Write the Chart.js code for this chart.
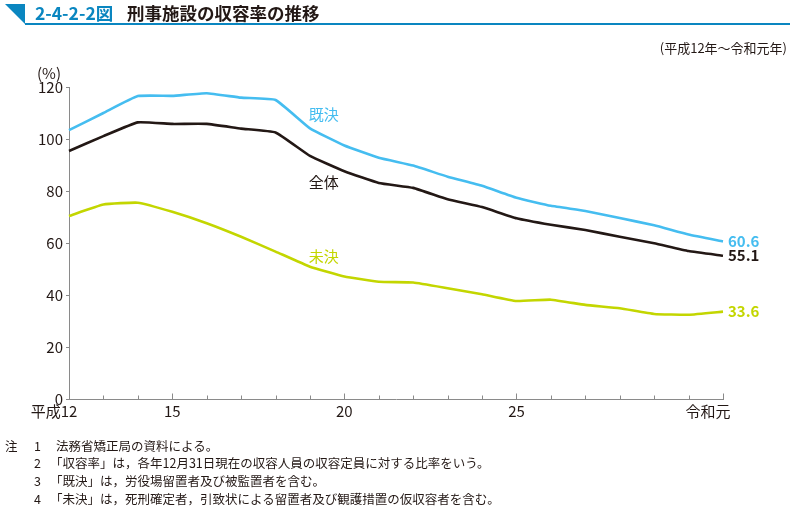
<!DOCTYPE html>
<html><head><meta charset="utf-8">
<script src="https://cdn.jsdelivr.net/npm/chart.js@4.4.1/dist/chart.umd.min.js"></script>
<style>
html,body{margin:0;padding:0;background:#fff;}
body{width:790px;height:506px;position:relative;overflow:hidden;font-family:"Noto Sans CJK JP","Noto Sans",sans-serif;color:#231815;}
#wrap{position:absolute;left:0;top:0;width:790px;height:506px;}
.abs{position:absolute;white-space:nowrap;}
#tri{position:absolute;left:5px;top:4px;width:0;height:0;border-top:20px solid #0a86c0;border-left:20px solid transparent;}
#uline{position:absolute;left:25px;top:23px;width:765px;height:2px;background:#0a86c0;}
#fig{left:35px;top:0px;font-size:17.5px;font-weight:bold;color:#0a86c0;}
#ttl{left:127px;top:0px;font-size:17.5px;font-weight:bold;color:#231815;}
#sub{right:3px;top:38px;font-size:13px;}
#unit{left:37px;top:62px;font-size:15px;}
.note{font-size:12.5px;color:#231815;}
</style></head><body>
<div id="wrap"><canvas id="c" width="790" height="506"></canvas></div>
<div id="tri"></div><div id="uline"></div>
<div class="abs" id="fig">2-4-2-2図</div>
<div class="abs" id="ttl">刑事施設の収容率の推移</div>
<div class="abs" id="sub">(平成12年～令和元年)</div>
<div class="abs" id="unit">(%)</div>
<div class="abs note" style="left:5px;top:436px;">注</div>
<div class="abs note" style="left:34px;top:436px;">1</div>
<div class="abs note" style="left:56px;top:436px;">法務省矯正局の資料による。</div>
<div class="abs note" style="left:34px;top:453px;">2</div>
<div class="abs note" style="left:50px;top:453px;">「収容率」は，各年12月31日現在の収容人員の収容定員に対する比率をいう。</div>
<div class="abs note" style="left:34px;top:471px;">3</div>
<div class="abs note" style="left:50px;top:471px;">「既決」は，労役場留置者及び被監置者を含む。</div>
<div class="abs note" style="left:34px;top:489px;">4</div>
<div class="abs note" style="left:50px;top:489px;">「未決」は，死刑確定者，引致状による留置者及び観護措置の仮収容者を含む。</div>
<script>
const years = ["平成12","13","14","15","16","17","18","19","20","21","22","23","24","25","26","27","28","29","30","令和元"];
const shownTicks = ["平成12","15","20","25","令和元"];
const seriesNames = ["既決","全体","未決"];
const kiketsu = [103.4,110.0,116.5,116.6,117.6,115.9,115.0,104.1,97.5,92.8,89.8,85.5,82.0,77.4,74.3,72.3,69.6,66.8,63.3,60.6];
const zentai  = [95.4,101.1,106.4,105.8,105.8,104.0,102.5,93.5,87.6,83.1,81.2,76.8,73.8,69.5,67.0,65.0,62.4,59.9,56.9,55.1];
const miketsu = [70.4,74.8,75.5,72.0,67.6,62.4,56.7,50.9,47.1,45.1,44.8,42.6,40.3,37.7,38.2,36.2,34.9,32.7,32.4,33.6];
const yTicks = [0,20,40,60,80,100,120];
const colors = ["#45bdf0","#231815","#c3d600"];
const nameLabelPos = [[7.4,109.5],[7.4,83.4],[7.4,55.0]];

const FONT = '"Noto Sans CJK JP","Noto Sans",sans-serif';

const annot = {
  id:'annot',
  afterDatasetsDraw(chart){
    const ctx = chart.ctx, xs = chart.scales.x, ys = chart.scales.y;
    ctx.save();
    // inside x ticks
    ctx.strokeStyle = '#8a8a8a'; ctx.lineWidth = 1;
    const yb = Math.round(ys.getPixelForValue(0)) + 0.5;
    years.forEach((y,i)=>{
      const px = Math.round(xs.getPixelForValue(i)) + 0.5;
      const len = shownTicks.includes(y) ? 6 : 4;
      ctx.beginPath(); ctx.moveTo(px,yb); ctx.lineTo(px,yb-len); ctx.stroke();
    });
    // x tick labels: trailing numeric part centred on the tick
    ctx.font = '15px ' + FONT; ctx.fillStyle = '#231815';
    ctx.textBaseline = 'middle'; ctx.textAlign = 'right';
    years.forEach((y,i)=>{
      if(!shownTicks.includes(y)) return;
      const m = y.match(/\d+$/);
      const tail = m ? m[0] : y.slice(-1);
      const w = ctx.measureText(tail).width;
      ctx.fillText(y, xs.getPixelForValue(i) + w/2, yb + 12);
    });
    // end labels
    ctx.font = '600 15px ' + FONT;
    ctx.textAlign = 'left';
    chart.data.datasets.forEach((ds,di)=>{
      const last = ds.data.length-1;
      const px = xs.getPixelForValue(last), py = ys.getPixelForValue(ds.data[last]);
      ctx.fillStyle = colors[di];
      ctx.fillText(ds.data[last].toFixed(1), px+5, py);
    });
    // series names
    ctx.font = '15px ' + FONT; ctx.textAlign = 'center';
    seriesNames.forEach((n,i)=>{
      ctx.fillStyle = colors[i];
      ctx.fillText(n, xs.getPixelForValue(nameLabelPos[i][0]), ys.getPixelForValue(nameLabelPos[i][1]));
    });
    ctx.restore();
  }
};

new Chart(document.getElementById('c'), {
  type:'line',
  data:{
    labels: years,
    datasets:[
      {label:seriesNames[0], data:kiketsu, borderColor:colors[0]},
      {label:seriesNames[1], data:zentai, borderColor:colors[1]},
      {label:seriesNames[2], data:miketsu, borderColor:colors[2]}
    ].map(d=>Object.assign(d,{borderWidth:2.6,pointRadius:0,tension:0.12,fill:false}))
  },
  options:{
    responsive:false, animation:false, devicePixelRatio:1,
    layout:{padding:{left:0,right:67,top:87,bottom:0}},
    plugins:{legend:{display:false},tooltip:{enabled:false}},
    scales:{
      x:{
        type:'category',
        offset:false,
        grid:{display:false,drawTicks:false},
        border:{display:true,color:'#8a8a8a',width:1},
        ticks:{autoSkip:false,maxRotation:0,padding:4,callback:()=>''},
        afterFit(s){ s.height = 107; }
      },
      y:{
        min:0,max:120,
        afterBuildTicks(s){ s.ticks = yTicks.map(v=>({value:v})); },
        grid:{drawOnChartArea:false,drawTicks:true,tickLength:3,color:'#8a8a8a'},
        border:{display:true,color:'#8a8a8a',width:1},
        ticks:{padding:3,color:'#231815',font:{family:FONT,size:15}},
        afterFit(s){ s.width = 69; }
      }
    }
  },
  plugins:[annot]
});
</script>
</body></html>
